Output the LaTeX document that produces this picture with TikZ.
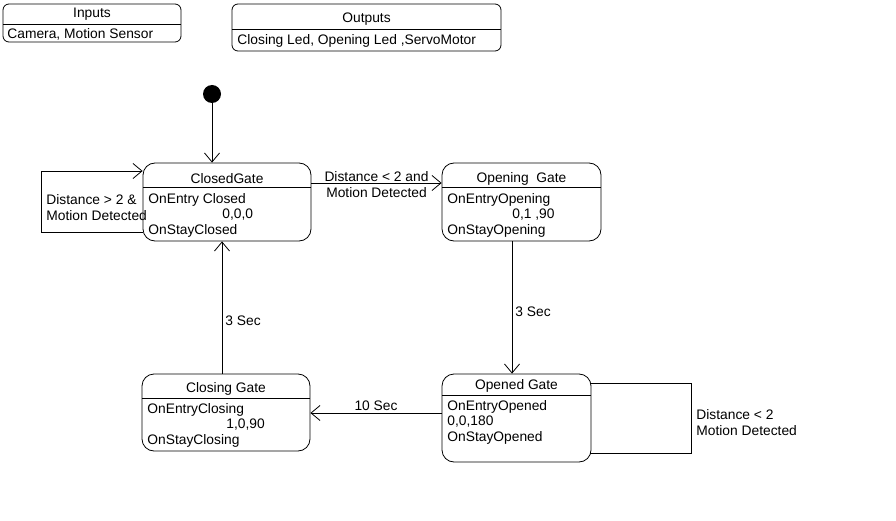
\documentclass[tikz,border=0pt]{standalone}
\usepackage{fontspec}
\setmainfont{Liberation Sans}
\usetikzlibrary{arrows.meta}
\begin{document}
\begin{tikzpicture}[x=1pt,y=-1pt,line width=0.8pt,
    font=\fontsize{13.8}{16}\selectfont,
    >={Straight Barb[length=9pt,width=15pt]},
    statebox/.style={draw,rounded corners=12pt,inner sep=0pt},
    infobox/.style={draw,rounded corners=6pt,inner sep=0pt},
    ttl/.style={inner sep=0pt,yshift=-1.5pt},
    txt/.style={inner sep=0pt,anchor=west,yshift=-1.5pt},
    lbl/.style={inner sep=1pt,align=center}]
  \useasboundingbox[fill=white] (0,0) rectangle (896,521);
  % Inputs and outputs
  \node[infobox,minimum width=178pt,minimum height=38pt] (inbox) at (92,23) {};
  \draw (3,24) -- (181,24);
  \node[ttl] (intitle) at (92,13) {Inputs};
  \node[txt] (inbody) at (7,33) {Camera, Motion Sensor};
  \node[infobox,minimum width=269pt,minimum height=47pt] (outbox) at (366.5,27.5) {};
  \draw (232,29) -- (501,29);
  \node[ttl] (outtitle) at (366.5,18) {Outputs};
  \node[txt] (outbody) at (237,39) {Closing Led, Opening Led ,ServoMotor};
  % Initial state
  \node[circle,fill,minimum size=18pt,inner sep=0pt] (init) at (212,94) {};
  % States
  \node[statebox,minimum width=168pt,minimum height=78pt] (closed) at (227,202) {};
  \draw (143,187) -- (311,187);
  \node[ttl] (closedtitle) at (227,177) {ClosedGate};
  \node[txt] (closed1) at (148,198) {OnEntry Closed};
  \node[txt] (closed2) at (222,213) {0,0,0};
  \node[txt] (closed3) at (148,229) {OnStayClosed};
  \node[statebox,minimum width=159pt,minimum height=78pt] (opening) at (521.5,202) {};
  \draw (442,187) -- (601,187);
  \node[ttl] (openingtitle) at (521.5,177) {Opening\ \ Gate};
  \node[txt] (opening1) at (447,198) {OnEntryOpening};
  \node[txt] (opening2) at (512,213) {0,1 ,90};
  \node[txt] (opening3) at (447,229) {OnStayOpening};
  \node[statebox,minimum width=149pt,minimum height=88pt] (opened) at (516.5,418) {};
  \draw (442,395) -- (591,395);
  \node[ttl] (openedtitle) at (516.5,384) {Opened Gate};
  \node[txt] (opened1) at (447,405) {OnEntryOpened};
  \node[txt] (opened2) at (447,420) {0,0,180};
  \node[txt] (opened3) at (447,436) {OnStayOpened};
  \node[statebox,minimum width=168pt,minimum height=77pt] (closing) at (226,412.5) {};
  \draw (142,398) -- (310,398);
  \node[ttl] (closingtitle) at (226,387) {Closing Gate};
  \node[txt] (closing1) at (147,408) {OnEntryClosing};
  \node[txt] (closing2) at (226,423) {1,0,90};
  \node[txt] (closing3) at (147,439) {OnStayClosing};
  % Transitions
  \draw[->] (init) -- (init |- closed.north);
  \draw[->] ([yshift=19pt]closed.east) -- ([yshift=19pt]opening.west)
    node[lbl,midway,below=-13pt] (t1) {Distance < 2 and\\Motion Detected};
  \draw[->] (opening.south -| 512,0) -- (opened.north -| 512,0)
    node[lbl,pos=0.53,right=2pt] (t2) {3 Sec};
  \draw[->] ([yshift=5pt]opened.west) -- ([yshift=5pt]opened.west -| closing.east)
    node[lbl,midway,above=1pt] (t3) {10 Sec};
  \draw[->] (closing.north -| 222,0) -- (closed.south -| 222,0)
    node[lbl,pos=0.4,right=2pt] (t4) {3 Sec};
  % Self loops
  \draw[->] ([yshift=-30pt]closed.west) -- ++(-101,0) |- ([yshift=31pt]closed.west);
  \node[txt,align=left] (t5) at (46,206) {Distance > 2 \&\\Motion Detected};
  \draw ([yshift=35pt]opened.east) -- ++(100,0) |- ([yshift=-35pt,xshift=-1pt]opened.east);
  \node[txt,align=left] (t6) at (696,421) {Distance < 2\\Motion Detected};
\end{tikzpicture}
\end{document}
